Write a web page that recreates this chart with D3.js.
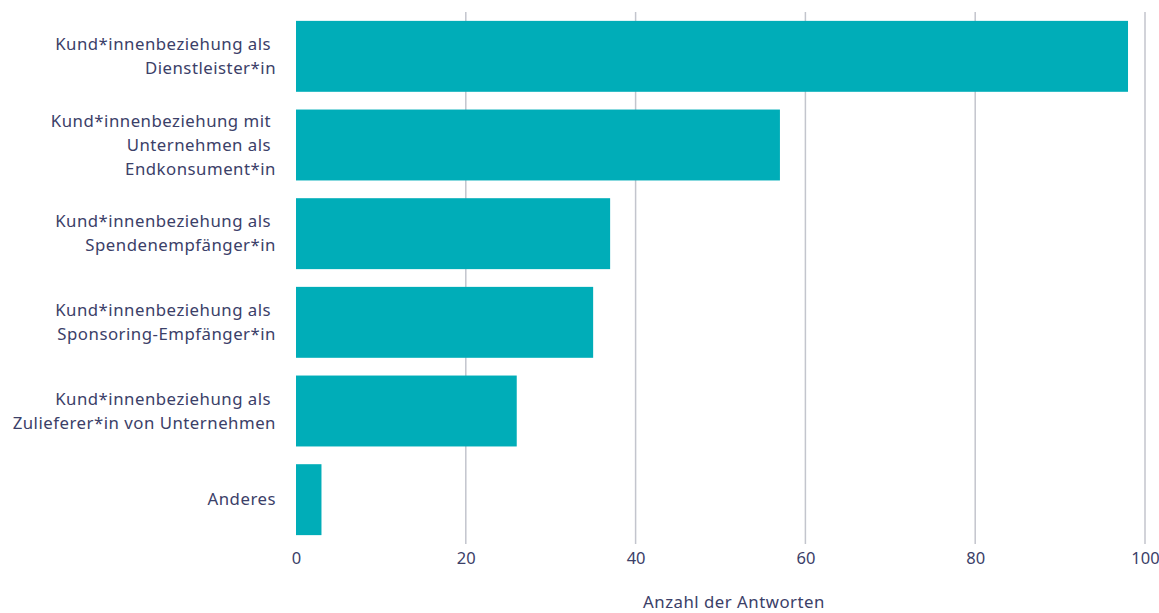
<!DOCTYPE html>
<html>
<head>
<meta charset="utf-8">
<script src="https://cdn.jsdelivr.net/npm/d3@7"></script>
<style>
  html, body { margin: 0; padding: 0; background: #fff; }
  svg { display: block; font-family: "Noto Sans", "Open Sans", sans-serif; }
  svg text { white-space: pre; letter-spacing: 0.5px; }
  svg .tick text { letter-spacing: 0; }
</style>
</head>
<body>
<svg id="chart" width="1159" height="613"></svg>
<script>
// Answer categories (each entry is a list of label lines)
const categories = [
  ["Kund*innenbeziehung als ", "Dienstleister*in"],
  ["Kund*innenbeziehung mit ", "Unternehmen als ", "Endkonsument*in"],
  ["Kund*innenbeziehung als ", "Spendenempfänger*in"],
  ["Kund*innenbeziehung als ", "Sponsoring-Empfänger*in"],
  ["Kund*innenbeziehung als ", "Zulieferer*in von Unternehmen"],
  ["Anderes"]
];
const values = [98, 57, 37, 35, 26, 3];
const xTicks = [0, 20, 40, 60, 80, 100];
const xTitle = "Anzahl der Antworten";

const svg = d3.select("#chart");
const margin = { top: 12, right: 14, bottom: 69, left: 296 };
const W = 1159, H = 613;
const innerW = W - margin.left - margin.right;
const innerH = H - margin.top - margin.bottom;

const textColor = "#3b4068";
const barColor = "#00adb8";
const gridColor = "#c3c5cd";
const fontSize = 16.8;

const ids = categories.map((c, i) => i);
const x = d3.scaleLinear().domain([0, 100]).range([0, innerW]);
const y = d3.scaleBand().domain(ids).range([0, innerH]).paddingInner(0.2).paddingOuter(0.1);

const g = svg.append("g").attr("transform", `translate(${margin.left},${margin.top})`);

// vertical gridlines
g.append("g")
  .selectAll("line")
  .data(xTicks.filter(t => t !== 0))
  .join("line")
  .attr("x1", d => x(d)).attr("x2", d => x(d))
  .attr("y1", 0).attr("y2", innerH)
  .attr("stroke", gridColor)
  .attr("stroke-width", 1.5);

// bars
g.append("g")
  .selectAll("rect")
  .data(values)
  .join("rect")
  .attr("x", x(0))
  .attr("y", (d, i) => y(i))
  .attr("width", d => x(d) - x(0))
  .attr("height", y.bandwidth())
  .attr("fill", barColor);

// x axis
const xAxis = g.append("g")
  .attr("transform", `translate(0,${innerH})`)
  .call(d3.axisBottom(x).tickValues(xTicks).tickSize(0).tickPadding(8));
xAxis.select(".domain").remove();
xAxis.selectAll("text")
  .attr("fill", textColor)
  .attr("font-size", 16.5)
  .attr("font-family", "'Noto Sans', sans-serif");

// y category labels
const lineH = 24;
const labels = g.append("g")
  .selectAll("text")
  .data(categories)
  .join("text")
  .attr("x", -20)
  .attr("y", (d, i) => y(i) + y.bandwidth() / 2)
  .attr("text-anchor", "end")
  .attr("fill", textColor)
  .attr("font-size", fontSize);
labels.each(function(lines) {
  const t = d3.select(this);
  const offset = -((lines.length - 1) * lineH) / 2;
  lines.forEach((ln, k) => {
    t.append("tspan")
      .attr("x", -20)
      .attr("dy", k === 0 ? offset + 5.5 : lineH)
      .text(ln);
  });
});

// axis title
svg.append("text")
  .attr("x", 734)
  .attr("y", 608)
  .attr("text-anchor", "middle")
  .attr("fill", textColor)
  .attr("font-size", fontSize)
  .text(xTitle);
</script>
</body>
</html>
